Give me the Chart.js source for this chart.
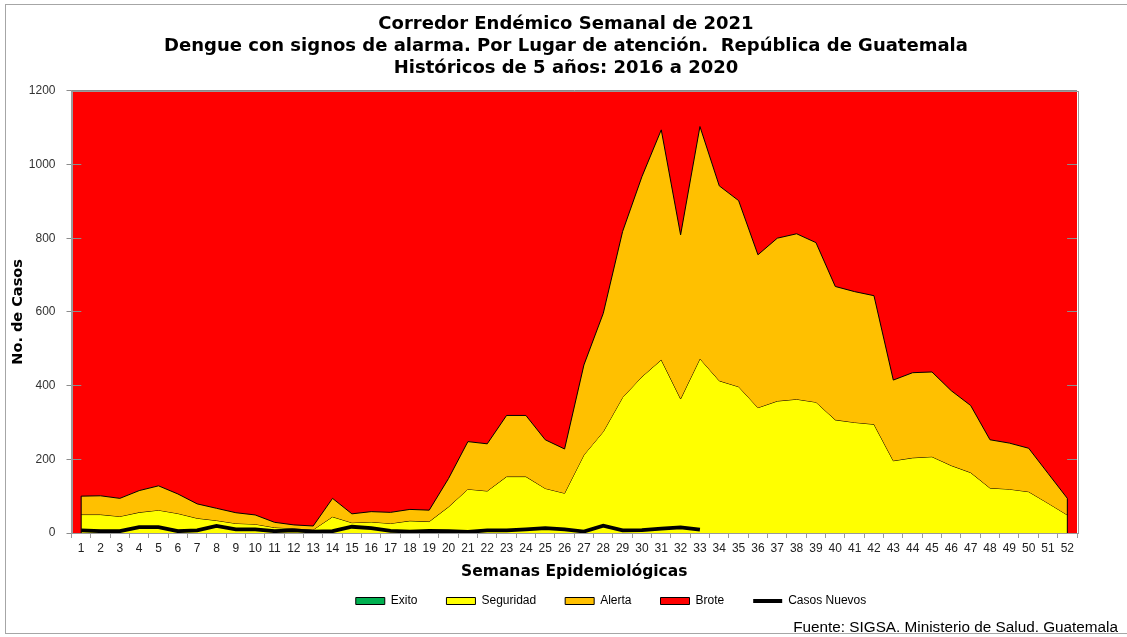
<!DOCTYPE html>
<html>
<head>
<meta charset="utf-8">
<script src="https://cdn.jsdelivr.net/npm/chart.js@4"></script>
<style>
  html, body { margin: 0; padding: 0; background: #fff; }
  #wrap { position: relative; width: 1127px; height: 637px; overflow: hidden; }
  #frame { position: absolute; left: 5px; top: 4px; width: 1140px; height: 630px; border: 1px solid #a6a6a6; box-sizing: border-box; }
  #c { position: absolute; left: 0; top: 0; }
  #foot { position: absolute; right: 9px; top: 618px; font: 15.3px "Liberation Sans", Arial, sans-serif; line-height: 18px; color: #000; white-space: nowrap; }
</style>
</head>
<body>
<div id="wrap">
  <div id="frame"></div>
  <canvas id="c" width="1127" height="637"></canvas>
  <div id="foot">Fuente: SIGSA. Ministerio de Salud. Guatemala</div>
</div>
<script>
const semanas = ["1","2","3","4","5","6","7","8","9","10","11","12","13","14","15","16","17","18","19","20","21","22","23","24","25","26","27","28","29","30","31","32","33","34","35","36","37","38","39","40","41","42","43","44","45","46","47","48","49","50","51","52"];
const exito = [0,0,0,0,0,0,0,0,0,0,0,0,0,0,0,0,0,0,0,0,0,0,0,0,0,0,0,0,0,0,0,0,0,0,0,0,0,0,0,0,0,0,0,0,0,0,0,0,0,0,0,0];
const seguridad = [50,50,45,56,62,53,40,34,26,24,15,12,9,44,28,30,26,33,31,71,119,114,153,153,121,108,212,275,368,424,470,364,473,413,397,340,358,363,355,307,300,295,196,204,207,183,164,122,119,112,81,49];
const alerta = [100,101,94,115,128,106,79,67,55,49,29,22,19,94,52,58,56,64,62,148,248,242,319,319,253,228,456,596,818,967,1094,809,1103,942,902,755,800,812,788,669,655,644,415,435,437,386,346,253,244,230,162,94];
const brote = [1200,1200,1200,1200,1200,1200,1200,1200,1200,1200,1200,1200,1200,1200,1200,1200,1200,1200,1200,1200,1200,1200,1200,1200,1200,1200,1200,1200,1200,1200,1200,1200,1200,1200,1200,1200,1200,1200,1200,1200,1200,1200,1200,1200,1200,1200,1200,1200,1200,1200,1200,1200];
const casosNuevos = [7,5,5,16,16,5,7,19,10,10,5,7,4,5,17,13,6,4,6,5,3,7,7,10,13,10,4,20,7,8,12,15,9];
const yTicks = [0,200,400,600,800,1000,1200];

const FONT = '"Liberation Sans", Arial, sans-serif';
const BOLD = '"DejaVu Sans", Arial, sans-serif';

const plotBg = {
  id: 'plotBg',
  afterLayout(chart) {
    const t = chart.titleBlock;
    if (t) { t.left = 5; t.right = 1127; t.width = 1122; }
    const l = chart.legend;
    if (l) { const dx = 70; l.left += dx; l.right += dx; }
  },
  beforeDraw(chart) {
    const a = chart.chartArea, ctx = chart.ctx;
    ctx.save();
    ctx.fillStyle = '#FF0000';
    ctx.fillRect(a.left, a.top, a.right - a.left, a.bottom - a.top);
    ctx.restore();
  },
  afterDatasetsDraw(chart) {
    const ctx = chart.ctx;
    const m = chart.getDatasetMeta(2);
    const first = m.data[0], last = m.data[m.data.length - 1];
    const y0 = chart.scales.y.getPixelForValue(0);
    ctx.save();
    ctx.strokeStyle = '#000';
    ctx.lineWidth = 1;
    ctx.beginPath();
    ctx.moveTo(first.x, first.y); ctx.lineTo(first.x, y0);
    ctx.moveTo(last.x, last.y); ctx.lineTo(last.x, y0);
    ctx.stroke();
    ctx.restore();
  },
  afterDraw(chart) {
    const a = chart.chartArea, ctx = chart.ctx;
    ctx.save();
    ctx.strokeStyle = '#9a9a9a';
    ctx.lineWidth = 1;
    ctx.strokeRect(Math.round(a.left) + 0.5, Math.round(a.top) + 0.5, Math.round(a.right - a.left), Math.round(a.bottom - a.top));
    ctx.restore();
  }
};

const legendStyle = {
  'Exito':        { fill: '#00B050', style: 'rect', lw: 1 },
  'Seguridad':    { fill: '#FFFF00', style: 'rect', lw: 1 },
  'Alerta':       { fill: '#FFC000', style: 'rect', lw: 1 },
  'Brote':        { fill: '#FF0000', style: 'rect', lw: 1 },
  'Casos Nuevos': { fill: '#000000', style: 'line', lw: 4 }
};

new Chart(document.getElementById('c'), {
  type: 'line',
  data: {
    labels: semanas,
    datasets: [
      { label: 'Exito', data: exito, backgroundColor: '#00B050', borderColor: '#000', borderWidth: 0, fill: 'origin', pointRadius: 0, tension: 0, order: 5 },
      { label: 'Seguridad', data: seguridad, backgroundColor: '#FFFF00', borderColor: '#000', borderWidth: 1, fill: '-1', pointRadius: 0, tension: 0, order: 4 },
      { label: 'Alerta', data: alerta, backgroundColor: '#FFC000', borderColor: '#000', borderWidth: 1, fill: '-1', pointRadius: 0, tension: 0, order: 3 },
      { label: 'Brote', data: brote, backgroundColor: '#FF0000', borderColor: 'rgba(0,0,0,0)', borderWidth: 0, fill: '-1', pointRadius: 0, tension: 0, order: 6 },
      { label: 'Casos Nuevos', data: casosNuevos, backgroundColor: '#000', borderColor: '#000', borderWidth: 3.8, fill: false, pointRadius: 0, tension: 0, order: 1 }
    ]
  },
  options: {
    responsive: false,
    animation: false,
    layout: { padding: { left: 5, right: 50, top: 0, bottom: 20 } },
    plugins: {
      title: {
        display: true,
        text: ['Corredor Endémico Semanal de 2021', 'Dengue con signos de alarma. Por Lugar de atención.  República de Guatemala', 'Históricos de 5 años: 2016 a 2020'],
        color: '#000',
        font: { family: BOLD, size: 18, weight: 'bold', lineHeight: 1.2 },
        padding: { top: 14, bottom: 12 }
      },
      legend: {
        position: 'bottom',
        labels: {
          color: '#000',
          font: { family: FONT, size: 12 },
          usePointStyle: true,
          pointStyleWidth: 29,
          boxHeight: 7,
          padding: 29,
          generateLabels(chart) {
            const items = Chart.defaults.plugins.legend.labels.generateLabels(chart);
            const order = ['Exito','Seguridad','Alerta','Brote','Casos Nuevos'];
            items.forEach(it => {
              const s = legendStyle[it.text];
              it.fillStyle = s.fill;
              it.strokeStyle = '#000';
              it.lineWidth = s.lw;
              it.pointStyle = s.style;
            });
            items.sort((a, b) => order.indexOf(a.text) - order.indexOf(b.text));
            return items;
          }
        }
      },
      tooltip: { enabled: false }
    },
    scales: {
      x: {
        offset: true,
        afterFit(scale) { scale.height = 33; },
        grid: { display: true, drawOnChartArea: false, offset: true, tickLength: 5, color: '#9a9a9a' },
        border: { color: '#9a9a9a' },
        ticks: { color: '#222', font: { family: FONT, size: 12 }, maxRotation: 0, autoSkip: false, padding: 3 },
        title: { display: true, text: 'Semanas Epidemiológicas', color: '#000', font: { family: BOLD, size: 15.5, weight: 'bold', lineHeight: 1.2 }, padding: { top: 9, bottom: -15.3 } }
      },
      y: {
        min: 0, max: 1200,
        afterBuildTicks(scale) { scale.ticks = yTicks.map(v => ({ value: v })); },
        afterFit(scale) { scale.width = 66.5; },
        grid: { color: '#8c8c8c', tickLength: 5, lineWidth: 1 },
        border: { color: '#9a9a9a' },
        ticks: { color: '#333', font: { family: FONT, size: 12 }, padding: 11, callback: v => String(v) },
        title: { display: true, text: 'No. de Casos', color: '#000', font: { family: BOLD, size: 14.5, weight: 'bold', lineHeight: 1.2 }, padding: { top: 4.3, bottom: 0 } }
      }
    }
  },
  plugins: [plotBg]
});
</script>
</body>
</html>
